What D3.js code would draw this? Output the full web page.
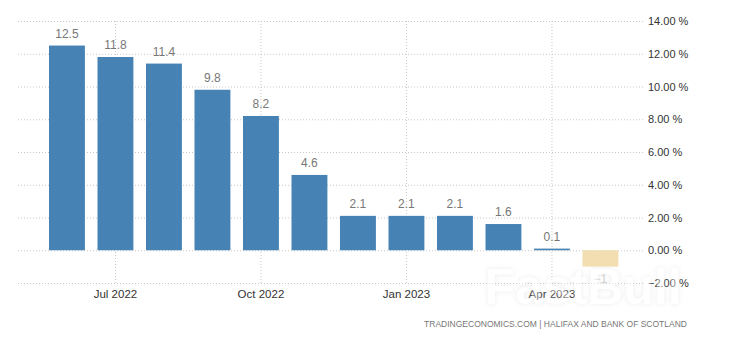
<!DOCTYPE html>
<html>
<head>
<meta charset="utf-8">
<script src="https://cdn.jsdelivr.net/npm/d3@7/dist/d3.min.js"></script>
<style>
  html, body { margin: 0; padding: 0; background: #fff; }
  svg { display: block; font-family: "Liberation Sans", Arial, sans-serif; }
  .grid line { stroke: #c8c8c8; stroke-dasharray: 1,2; }
  .grid .domain { display: none; }
</style>
</head>
<body>
<svg id="chart" width="730" height="340"></svg>
<script>
// Halifax house price index, year-on-year change (%)
const months = ["Jun 2022", "Jul 2022", "Aug 2022", "Sep 2022", "Oct 2022", "Nov 2022",
                "Dec 2022", "Jan 2023", "Feb 2023", "Mar 2023", "Apr 2023", "May 2023"];
const values = [12.5, 11.8, 11.4, 9.8, 8.2, 4.6, 2.1, 2.1, 2.1, 1.6, 0.1, -1];
const forecast = [false, false, false, false, false, false, false, false, false, false, false, true];
const xTickMonths = ["Jul 2022", "Oct 2022", "Jan 2023", "Apr 2023"];
const yTicks = [-2, 0, 2, 4, 6, 8, 10, 12, 14];
const sourceText = "TRADINGECONOMICS.COM | HALIFAX AND BANK OF SCOTLAND";

const svg = d3.select("#chart");
const plotLeft = 16, plotRight = 643, plotTop = 21, plotBottom = 283;

const x = d3.scaleBand()
  .domain(months)
  .range([42.7, 624.7])
  .paddingInner(0.26)
  .paddingOuter(0.13);

const y = d3.scaleLinear()
  .domain([d3.min(yTicks), d3.max(yTicks)])
  .range([plotBottom, plotTop]);

// Vertical grid + x labels
const xAxis = svg.append("g")
  .attr("class", "grid")
  .attr("transform", `translate(0,${plotBottom})`)
  .call(d3.axisBottom(x).tickValues(xTickMonths).tickSize(-(plotBottom - plotTop)).tickPadding(7));
xAxis.selectAll("text").attr("fill", "#333").attr("font-size", 11.5)
  .attr("font-family", "'Liberation Sans', Arial, sans-serif");

// Horizontal grid + y labels on the right
const yAxis = svg.append("g")
  .attr("class", "grid")
  .attr("transform", `translate(${plotRight},0)`)
  .call(d3.axisRight(y).tickValues(yTicks).tickSize(-(plotRight - plotLeft)).tickPadding(5)
    .tickFormat(d => d3.format(".2f")(d) + " %"));
yAxis.selectAll("text").attr("fill", "#333").attr("font-size", 11)
  .attr("font-family", "'Liberation Sans', Arial, sans-serif");

// Bars
const data = months.map((m, i) => ({ month: m, value: values[i], forecast: forecast[i] }));

svg.append("g").selectAll("rect")
  .data(data)
  .join("rect")
  .attr("x", d => x(d.month))
  .attr("width", x.bandwidth())
  .attr("y", d => y(Math.max(0, d.value)))
  .attr("height", d => Math.abs(y(d.value) - y(0)))
  .attr("fill", d => d.forecast ? "#f2deb0" : "#4682b4");

// Value labels
svg.append("g").selectAll("text")
  .data(data)
  .join("text")
  .attr("x", d => x(d.month) + x.bandwidth() / 2)
  .attr("y", d => d.value >= 0 ? y(d.value) - 8 : y(d.value) + 16)
  .attr("text-anchor", "middle")
  .attr("font-size", 12)
  .attr("fill", d => d.forecast ? "#cfcfcf" : "#777")
  .text(d => d3.format("")(d.value));

// Source
svg.append("text")
  .attr("x", 687).attr("y", 327)
  .attr("text-anchor", "end")
  .attr("font-size", 8.5)
  .attr("fill", "#777")
  .text(sourceText);

// Watermark: soft grey halo under a translucent white word
const defs = svg.append("defs");
defs.append("filter").attr("id", "halo")
  .attr("x", "-10%").attr("y", "-30%").attr("width", "120%").attr("height", "160%")
  .append("feGaussianBlur").attr("stdDeviation", 2.5);

const mark = svg.append("g").attr("opacity", 0.42);
mark.append("text")
  .attr("x", 583).attr("y", 304)
  .attr("text-anchor", "middle")
  .attr("font-size", 50).attr("font-weight", "bold")
  .attr("fill", "#d0d0d0")
  .attr("filter", "url(#halo)")
  .text("FastBull");
mark.append("text")
  .attr("x", 583).attr("y", 304)
  .attr("text-anchor", "middle")
  .attr("font-size", 50).attr("font-weight", "bold")
  .attr("fill", "#ffffff")
  .text("FastBull");
</script>
</body>
</html>
